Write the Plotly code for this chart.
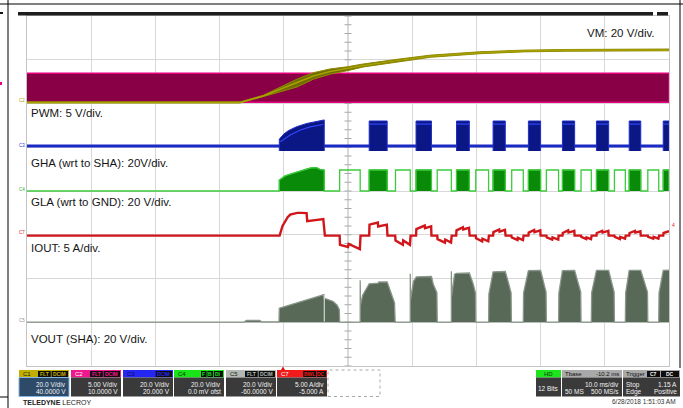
import plotly.graph_objects as go

W, H = 683, 408
L, R, T, B = 27, 14, 16, 42
PW, PH = W - L - R, H - T - B


def px(x):
    return (x - L) / PW


def py(y):
    return (H - B - y) / PH


# time axis in ms, 10 ms/div, trigger at 0
t_left, t_right = -39.8, 60.2
t_center = 10.2

# channel setup (drawing order: C2 band first so VM sits on top of it)
ch_names = ["C2", "C1", "C3", "C4", "C7", "C5"]
ch_vdiv = [5.0, 20.0, 20.0, 20.0, 5.0, 20.0]
ch_offset = [10.0, 40.0, 20.0, 0.0, -5.0, -60.0]

# C2 - PWM input, switching too fast to resolve -> solid band
pwm_t = [t_left, t_right]
pwm_lo = [0.15, 0.15]
pwm_hi = [3.45, 3.45]

# C1 - VM supply
vm_t = [-39.8, -6.6, -3.0, -0.4, 2.3, 4.8, 7.4, 10.1, 12.6, 17.9, 23.0, 30.7, 37.5, 44.2, 51.1, 60.2]
vm_v = [0.5, 0.5, 3.4, 6.4, 9.4, 12.6, 14.6, 15.9, 17.4, 19.6, 21.6, 23.2, 24.0, 24.3, 24.5, 24.5]
vm_ripple = [0.25, 0.25, 0.35, 1.1, 1.8, 1.5, 1.2, 0.9, 0.7, 0.6, 0.5, 0.45, 0.4, 0.4, 0.4, 0.4]

# commutation timing (ms)
drive_on = [-0.5, 13.5, 20.8, 27.1, 32.8, 38.3, 43.6, 48.9, 54.0, 59.3]
drive_off = [6.5, 16.3, 23.2, 29.1, 34.7, 40.2, 45.5, 50.8, 55.8, 60.2]
low_on = [8.9, 17.6, 24.1, 30.1, 35.7, 41.1, 46.5, 51.7, 56.9]
low_off = [12.1, 19.9, 26.3, 32.1, 37.5, 43.0, 48.1, 53.4, 58.6]

# C3 - GHA
gha_base = 0.55
gha_bottom = -1.7
gha_top = 12.0
gha_core = 10.6
gha_b1_t = [-0.5, -0.35, 0.15, 0.9, 2.2, 3.8, 5.4, 6.5]
gha_b1_v = [3.8, 4.2, 5.9, 7.6, 9.4, 10.9, 12.0, 12.5]
gha_core_t = [-0.35, 1.2, 2.8, 4.3, 6.3]
gha_core_v = [2.5, 5.6, 7.9, 9.3, 10.4]

# C4 - GLA
gla_base = 0.0
gla_high = 9.6
gla_b1_t = [-0.5, 0.4, 1.7, 3.2, 4.3, 5.3, 5.9, 6.5]
gla_b1_v = [5.0, 6.9, 8.2, 9.4, 10.5, 10.7, 9.8, 9.6]

# C7 - IOUT (A)
iout_t = [-39.8, -0.45, 0.0, 0.4, 0.8, 1.2, 1.8, 2.3, 3.0, 3.75, 3.85, 5.1, 6.35, 6.6,
          8.9, 8.95, 10.2, 10.3, 12.05, 12.15,
          13.5, 13.55, 14.85, 14.9, 16.25, 16.35,
          17.55, 17.6, 18.75, 18.8, 19.85, 19.95,
          20.8, 20.85, 22.15, 22.2, 23.15, 23.2,
          24.1, 24.15, 25.3, 25.35, 26.25, 26.35,
          27.05, 27.1, 28.1, 28.15, 29.05, 29.15,
          30.1, 30.15, 31.1, 31.15, 32.05, 32.15,
          32.8, 32.85, 33.75, 33.8, 34.65, 34.75,
          35.65, 35.7, 36.6, 36.65, 37.45, 37.55,
          38.3, 38.35, 39.2, 39.25, 40.15, 40.2,
          41.1, 41.15, 42.0, 42.05, 42.95, 43.0,
          43.6, 43.65, 44.5, 44.55, 45.45, 45.5,
          46.5, 46.55, 47.3, 47.35, 48.05, 48.15,
          48.9, 48.95, 49.8, 49.85, 50.75, 50.8,
          51.7, 51.75, 52.55, 52.6, 53.35, 53.45,
          54.0, 54.05, 54.9, 54.95, 55.75, 55.8,
          56.9, 56.95, 57.75, 57.8, 58.55, 58.65,
          59.3, 59.35, 60.2]
iout_a = [-0.1, -0.1, 1.0, 1.55, 2.0, 2.3, 2.45, 2.5, 2.5, 2.48, 1.55, 1.65, 1.8, -0.1,
          -0.1, -1.15, -1.4, -1.05, -1.65, -0.1,
          -0.1, 1.15, 1.4, 0.95, 1.15, -0.1,
          -0.1, -0.65, -1.15, -0.65, -1.15, -0.1,
          -0.1, 0.65, 1.05, 0.75, 0.95, -0.1,
          -0.1, -0.5, -0.9, -0.55, -0.9, -0.1,
          -0.1, 0.5, 0.85, 0.6, 0.8, -0.1,
          -0.1, -0.4, -0.75, -0.45, -0.75, -0.1,
          -0.1, 0.3, 0.6, 0.35, 0.55, -0.1,
          -0.1, -0.3, -0.6, -0.35, -0.6, -0.1,
          -0.1, 0.25, 0.55, 0.3, 0.5, -0.1,
          -0.1, -0.3, -0.55, -0.3, -0.55, -0.1,
          -0.1, 0.2, 0.5, 0.25, 0.45, -0.1,
          -0.1, -0.25, -0.5, -0.3, -0.5, -0.1,
          -0.1, 0.2, 0.45, 0.25, 0.45, -0.1,
          -0.1, -0.25, -0.5, -0.25, -0.45, -0.1,
          -0.1, 0.2, 0.45, 0.25, 0.4, -0.1,
          -0.1, -0.25, -0.45, -0.25, -0.45, -0.1,
          -0.1, 0.2, 0.4]

# C5 - VOUT (SHA)
vout_t = [-39.8, -6.0, -5.6, -3.6, -3.2, -0.55,
          -0.5, 6.45, 6.5, 6.9, 7.9, 8.5, 8.85, 8.9,
          12.1, 12.1, 12.15, 12.5, 12.9, 13.5, 14.9, 15.0, 16.3, 16.8, 17.45, 17.55,
          19.9, 19.9, 19.95, 20.4, 20.85, 23.2, 23.5, 24.05, 24.1,
          26.3, 26.3, 26.35, 26.8, 27.1, 29.1, 29.7, 30.05, 30.1,
          32.1, 32.15, 32.8, 34.7, 35.2, 35.6, 35.65,
          37.5, 37.55, 38.3, 40.2, 40.7, 41.05, 41.1,
          43.0, 43.05, 43.6, 45.5, 46.0, 46.45, 46.5,
          48.1, 48.15, 48.9, 50.8, 51.3, 51.65, 51.7,
          53.4, 53.45, 54.0, 55.8, 56.3, 56.85, 56.9,
          58.6, 58.65, 59.3, 60.2]
vout_v = [0.1, 0.1, 0.8, 0.8, 0.2, 0.2,
          6.4, 12.6, 10.9, 10.6, 9.5, 7.8, 5.7, 0.1,
          0.1, 19.2, 8.0, 12.5, 14.6, 17.6, 17.9, 18.4, 18.4, 14.1, 8.9, 0.1,
          0.1, 22.2, 10.3, 18.7, 20.7, 20.9, 17.2, 13.5, 0.1,
          0.1, 23.3, 12.0, 22.0, 22.3, 22.5, 17.5, 13.5, 0.1,
          0.1, 13.0, 23.0, 23.2, 18.0, 13.5, 0.1,
          0.1, 13.5, 23.6, 23.7, 18.5, 13.8, 0.1,
          0.1, 13.5, 23.6, 23.7, 18.5, 13.8, 0.1,
          0.1, 13.5, 23.7, 23.7, 18.5, 13.8, 0.1,
          0.1, 13.5, 23.7, 23.7, 18.5, 13.8, 0.1,
          0.1, 13.5, 23.7, 23.8]

# on-screen labels
label_text = ["VM: 20 V/div.", "PWM: 5 V/div.", "GHA (wrt to SHA): 20V/div.",
              "GLA (wrt to GND): 20 V/div.", "IOUT: 5 A/div.", "VOUT (SHA): 20 V/div."]

# channel tabs under the grid
tab_labels = ["C1", "C2", "C3", "C4", "C5", "C7"]
tab_tags = [["FLT", "DCIM"], ["FLT", "DCIM"], ["DCIM"], ["F", "B", "DI"], ["FLT", "DCIM"], ["BWL", "DC"]]
tab_line1 = ["20.0 V/div", "5.00 V/div", "20.0 V/div", "20.0 V/div", "20.0 V/div", "5.00 A/div"]
tab_line2 = ["40.0000 V", "10.0000 V", "20.000 V", "0.0 mV ofst", "-60.0000 V", "-5.000 A"]

ax = {}
for i, name in enumerate(ch_names):
    ax[name] = "y" if i == 0 else "y%d" % (i + 1)

fig = go.Figure()

# graticule ticks on the centre line
fig.add_trace(go.Scatter(x=[t_center] * 41, y=[-30 + k for k in range(41)], yaxis="y",
                         mode="markers", hoverinfo="skip",
                         marker=dict(symbol="line-ew", size=5, line=dict(width=1, color="#A8A8A8"))))

# C2 band
fig.add_trace(go.Scatter(x=pwm_t + pwm_t[::-1], y=pwm_hi + pwm_lo[::-1], yaxis=ax["C2"],
                         mode="lines", fill="toself", fillcolor="#8A0046",
                         line=dict(color="#E6007E", width=1.5), hoverinfo="skip"))

# C1 VM with ripple envelope
vm_up = [v + r for v, r in zip(vm_v, vm_ripple)]
vm_dn = [v - r for v, r in zip(vm_v, vm_ripple)]
fig.add_trace(go.Scatter(x=vm_t + vm_t[::-1], y=vm_up + vm_dn[::-1], yaxis=ax["C1"],
                         mode="lines", fill="toself", fillcolor="#706C00",
                         line=dict(color="#8E8A00", width=1), hoverinfo="skip"))
fig.add_trace(go.Scatter(x=vm_t, y=vm_v, yaxis=ax["C1"], mode="lines",
                         line=dict(color="#A8A200", width=1.5), hoverinfo="skip"))

# C3 GHA
fig.add_trace(go.Scatter(x=[t_left, t_right], y=[gha_base, gha_base], yaxis=ax["C3"], mode="lines",
                         line=dict(color="#1A2AC4", width=3), hoverinfo="skip"))
bx, by, cx, cy = [], [], gha_core_t + [None], gha_core_v + [None]
for i, (a, b) in enumerate(zip(drive_on, drive_off)):
    if i == 0:
        bx += [a] + gha_b1_t + [b, None]
        by += [gha_bottom] + gha_b1_v + [gha_bottom, None]
    else:
        bx += [a, a, b, b, None]
        by += [gha_bottom, gha_top, gha_top, gha_bottom, None]
        cx += [a, b, None]
        cy += [gha_core, gha_core, None]
fig.add_trace(go.Scatter(x=bx, y=by, yaxis=ax["C3"], mode="lines", fill="toself",
                         fillcolor="#0B1784", line=dict(color="#1E2EC8", width=1), hoverinfo="skip"))
fig.add_trace(go.Scatter(x=cx, y=cy, yaxis=ax["C3"], mode="lines",
                         line=dict(color="#3346FF", width=1.2), hoverinfo="skip"))

# C4 GLA
events = sorted([(a, b, "drive", i) for i, (a, b) in enumerate(zip(drive_on, drive_off))] +
                [(a, b, "low", i) for i, (a, b) in enumerate(zip(low_on, low_off))])
gx, gy, fx, fy = [t_left], [gla_base], [], []
for a, b, kind, i in events:
    if kind == "drive" and i == 0:
        top_x, top_y = gla_b1_t, gla_b1_v
    else:
        top_x, top_y = [a, b], [gla_high, gla_high]
    gx += [a] + top_x + [b]
    gy += [gla_base] + top_y + [gla_base]
    if kind == "drive":
        fx += [a] + top_x + [b, None]
        fy += [gla_base] + top_y + [gla_base, None]
fig.add_trace(go.Scatter(x=fx, y=fy, yaxis=ax["C4"], mode="lines", fill="toself",
                         fillcolor="#098B09", line=dict(color="#0A9A0A", width=1), hoverinfo="skip"))
fig.add_trace(go.Scatter(x=gx, y=gy, yaxis=ax["C4"], mode="lines",
                         line=dict(color="#3CCB3C", width=1.3), hoverinfo="skip"))

# C7 IOUT
fig.add_trace(go.Scatter(x=iout_t, y=iout_a, yaxis=ax["C7"], mode="lines",
                         line=dict(color="#D0161A", width=2.4), hoverinfo="skip"))

# C5 VOUT
fig.add_trace(go.Scatter(x=vout_t, y=vout_v, yaxis=ax["C5"], mode="lines", fill="tozeroy",
                         fillcolor="#586958", line=dict(color="#8A968A", width=1.3), hoverinfo="skip"))
fig.add_trace(go.Scatter(x=[6.5, 6.5], y=[0.3, 12.4], yaxis=ax["C5"], mode="lines",
                         line=dict(color="#E8ECE8", width=1), hoverinfo="skip"))

# axes: one per channel, ranges from V/div and offset
grid = "#D8D8D8"
fig.update_layout(xaxis=dict(range=[t_left, t_right], tick0=t_left, dtick=10, showgrid=True,
                             gridcolor=grid, zeroline=False, showticklabels=False, ticks="",
                             showline=True, mirror=True, linecolor="#C4C4C4", fixedrange=True))
for i, (vdiv, off) in enumerate(zip(ch_vdiv, ch_offset)):
    rng = [-off - 4 * vdiv, -off + 4 * vdiv]
    key = "yaxis" if i == 0 else "yaxis%d" % (i + 1)
    if i == 0:
        fig.update_layout({key: dict(range=rng, tick0=rng[0], dtick=vdiv, showgrid=True,
                                     gridcolor=grid, zeroline=False, showticklabels=False,
                                     ticks="", showline=True, mirror=True,
                                     linecolor="#C4C4C4", fixedrange=True)})
    else:
        fig.update_layout({key: dict(range=rng, overlaying="y", visible=False, fixedrange=True)})

shapes, notes = [], []
SANS = "Liberation Sans, Arial, sans-serif"
NARROW = "Liberation Sans Narrow, Arial Narrow, Liberation Sans, sans-serif"


def rect(x0, y0, x1, y1, fill, line=None, width=0, dash=None):
    shapes.append(dict(type="rect", xref="paper", yref="paper", x0=px(x0), x1=px(x1),
                       y0=py(y1), y1=py(y0), fillcolor=fill, layer="above",
                       line=dict(color=line or fill, width=width, dash=dash)))


def hline(x0, x1, y, color="#000000", width=1):
    shapes.append(dict(type="line", xref="paper", yref="paper", x0=px(x0), x1=px(x1),
                       y0=py(y), y1=py(y), line=dict(color=color, width=width)))


def vline(x, y0, y1, color="#000000", width=1):
    shapes.append(dict(type="line", xref="paper", yref="paper", x0=px(x), x1=px(x),
                       y0=py(y0), y1=py(y1), line=dict(color=color, width=width)))


def text(x, y, s, size, color, anchor="left", family=SANS):
    notes.append(dict(xref="paper", yref="paper", x=px(x), y=py(y), text=s, showarrow=False,
                      xanchor=anchor, yanchor="middle", borderpad=0,
                      font=dict(size=size, color=color, family=family)))


# centre graticule line
shapes.append(dict(type="line", xref="x", yref="paper", x0=t_center, x1=t_center, y0=0, y1=1,
                   layer="below", line=dict(color="#B4B4B4", width=1)))

# page frame and top bar
hline(0, 683, 4)
vline(8, 0, 408)
vline(680, 0, 368)
hline(0, 8, 397)
rect(18, 12, 653, 15.5, "#1E1E1E")
rect(657, 12, 668, 15.5, "#1E1E1E")
rect(0, 12, 3, 14, "#111111")
rect(0, 82, 2, 85, "#E6007E")

# trace labels
label_pos = [(656, 33, "right"), (30, 113, "left"), (30, 163, "left"),
             (30, 202, "left"), (30, 248, "left"), (30, 339, "left")]
for s, (x, y, anc) in zip(label_text, label_pos):
    text(x, y, s, 11.5, "#161616", anc)

# small channel ground markers
for s, y, c in [("C2", 100, "#B0A000"), ("C3", 145, "#3040E0"), ("C4", 189, "#30B030"),
                ("C7", 232, "#E02020"), ("C5", 320, "#909890")]:
    text(26, y, s, 4.5, c, "right")
text(671, 225, "4", 5, "#E02020", "left")

# channel tabs
tab_x = [19, 71, 123, 174, 226, 277]
head_col = ["#C2AE00", "#F0168C", "#2626F2", "#18E418", "#B2B8B2", "#F21A1A"]
head_txt = ["#202000", "#FFFFFF", "#0A0A50", "#003000", "#202020", "#FFFFFF"]
for i, x0 in enumerate(tab_x):
    x1 = x0 + 50
    rect(x0, 370, x1, 377.5, head_col[i])
    if i == 0:
        rect(x0, 377.5, x1, 396.5, "#2D4A68", "#86B4E0", 1)
    else:
        rect(x0, 377.5, x1, 396.5, "#3A3A3A")
    text(x0 + 2.5, 374, tab_labels[i], 6, head_txt[i])
    cur = x1 - 1
    for tag in reversed(tab_tags[i]):
        w = 3.6 * len(tag) + 2
        rect(cur - w, 371, cur, 377, "#0D0D0D")
        text(cur - w / 2, 374, "<b>" + tag + "</b>", 5, head_col[i], "center")
        cur -= w + 0.8
    text(x1 - 2, 384.5, tab_line1[i], 6.5, "#F2F2F2", "right", NARROW)
    text(x1 - 2, 391.5, tab_line2[i], 6.5, "#F2F2F2", "right", NARROW)
rect(328, 370, 380, 396.5, "#FFFFFF", "#A8A8A8", 1, "dot")
shapes.append(dict(type="path", xref="paper", yref="paper",
                   path="M %f %f L %f %f L %f %f Z" % (px(281), py(370), px(285), py(370), px(283), py(366.5)),
                   fillcolor="#E01010", line=dict(color="#E01010", width=0)))

# acquisition / timebase / trigger panels
rect(536, 370, 561, 377.5, "#1EE41E")
rect(536, 377.5, 561, 396.5, "#3A3A3A")
text(548.5, 374, "HD", 6, "#0A3A0A", "center")
text(548.5, 388, "12 Bits", 6.5, "#F2F2F2", "center", NARROW)
rect(562, 370, 622, 377.5, "#A9A9A9")
rect(562, 377.5, 622, 396.5, "#3A3A3A")
text(564, 374, "Tbase", 6, "#111111", "left", NARROW)
text(620, 374, "-10.2 ms", 6, "#111111", "right", NARROW)
text(620, 384.5, "10.0 ms/div", 6.5, "#F2F2F2", "right", NARROW)
text(564, 391.5, "50 MS", 6.5, "#F2F2F2", "left", NARROW)
text(620, 391.5, "500 MS/s", 6.5, "#F2F2F2", "right", NARROW)
rect(623, 370, 680, 377.5, "#A9A9A9")
rect(623, 377.5, 680, 396.5, "#3A3A3A")
text(625, 374, "Trigger", 6, "#111111", "left", NARROW)
rect(647, 371, 660, 377, "#0D0D0D")
text(653.5, 374, "<b>C7</b>", 5, "#F2F2F2", "center")
rect(661, 371, 679, 377, "#0D0D0D")
text(670, 374, "<b>DC</b>", 5, "#F2F2F2", "center")
text(625, 384.5, "Stop", 6.5, "#F2F2F2", "left", NARROW)
text(678, 384.5, "1.15 A", 6.5, "#F2F2F2", "right", NARROW)
text(625, 391.5, "Edge", 6.5, "#F2F2F2", "left", NARROW)
text(678, 391.5, "Positive", 6.5, "#F2F2F2", "right", NARROW)

text(22, 402.5, "<b>TELEDYNE</b> LECROY", 7, "#222222")
text(677, 401, "6/28/2018 1:51:03 AM", 6.5, "#333333", "right", NARROW)

fig.update_layout(width=W, height=H, margin=dict(l=L, r=R, t=T, b=B, pad=0),
                  paper_bgcolor="white", plot_bgcolor="white", showlegend=False,
                  shapes=shapes, annotations=notes)

# the page's default 8px body margin would push the figure off the window
fig.write_html("out.html", config={"displayModeBar": False},
               post_script="document.body.style.margin='0';document.body.style.overflow='hidden';")
